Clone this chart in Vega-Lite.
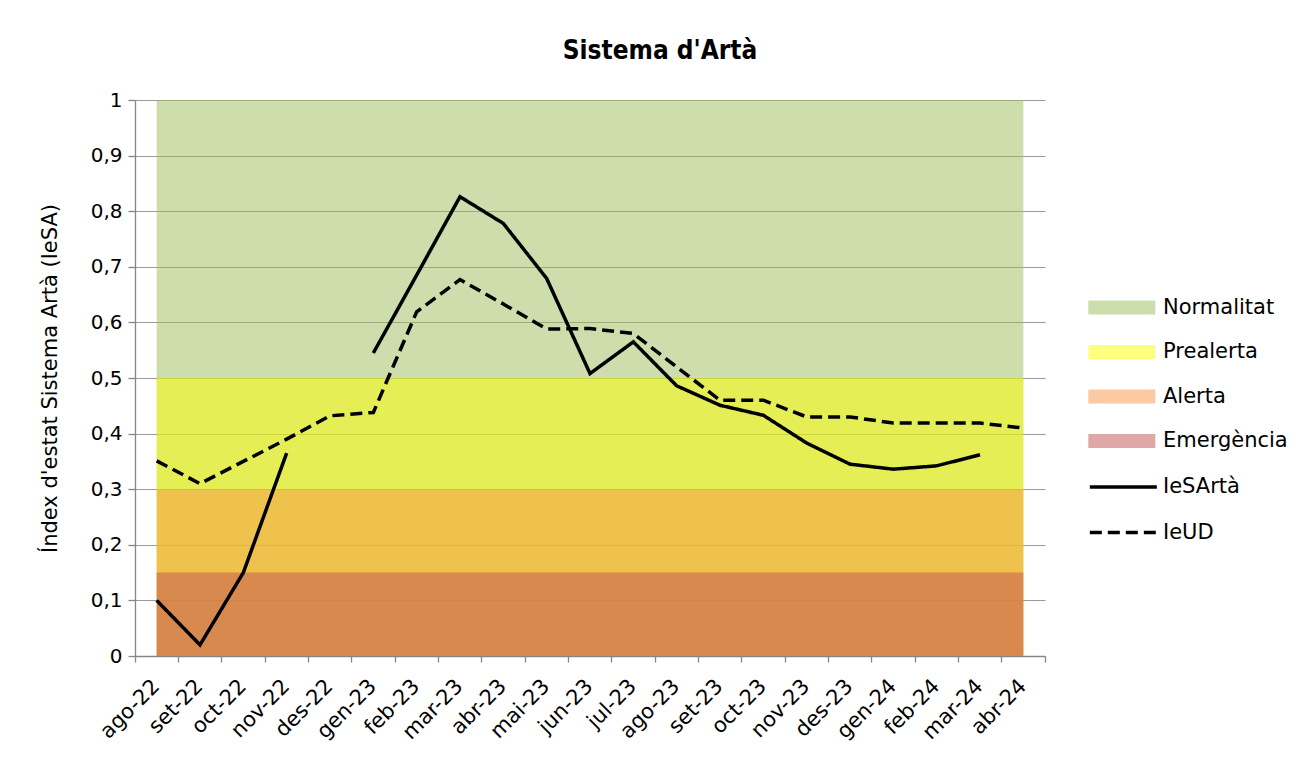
{
  "$schema": "https://vega.github.io/schema/vega-lite/v6.json",
  "width": 910,
  "height": 556,
  "autosize": {"type": "none"},
  "padding": {"left": 135, "top": 100, "right": 258, "bottom": 105},
  "background": "white",
  "title": {
    "text": "Sistema d'Artà",
    "font": "Liberation Sans Narrow, DejaVu Sans Condensed, sans-serif",
    "fontSize": 26,
    "fontWeight": "bold",
    "color": "#000000",
    "anchor": "middle",
    "frame": "group",
    "dx": 70,
    "offset": 26
  },
  "config": {
    "font": "DejaVu Sans",
    "view": {"stroke": null},
    "axis": {
      "domainColor": "#868686",
      "domainWidth": 1.3,
      "tickColor": "#868686",
      "tickWidth": 1.3,
      "gridColor": "#9A9A9A",
      "gridWidth": 1.2,
      "labelColor": "#000000",
      "titleColor": "#000000",
      "labelFont": "DejaVu Sans",
      "titleFont": "DejaVu Sans"
    },
    "legend": {
      "labelFont": "DejaVu Sans",
      "labelFontSize": 21,
      "labelColor": "#000000",
      "orient": "none",
      "title": null,
      "padding": 0,
      "rowPadding": 22.5,
      "labelOffset": 52,
      "symbolSize": 499,
      "legendX": 953
    }
  },
  "datasets": {
    "bands": [
      {"band": "Normalitat", "month": "ago-22", "value": 1},
      {"band": "Normalitat", "month": "abr-24", "value": 1},
      {"band": "Prealerta", "month": "ago-22", "value": 0.5},
      {"band": "Prealerta", "month": "abr-24", "value": 0.5},
      {"band": "Alerta", "month": "ago-22", "value": 0.3},
      {"band": "Alerta", "month": "abr-24", "value": 0.3},
      {"band": "Emergència", "month": "ago-22", "value": 0.15},
      {"band": "Emergència", "month": "abr-24", "value": 0.15}
    ],
    "series": [
      {"series": "IeSArtà", "month": "ago-22", "value": 0.10},
      {"series": "IeSArtà", "month": "set-22", "value": 0.02},
      {"series": "IeSArtà", "month": "oct-22", "value": 0.15},
      {"series": "IeSArtà", "month": "nov-22", "value": 0.365},
      {"series": "IeSArtà", "month": "des-22", "value": null},
      {"series": "IeSArtà", "month": "gen-23", "value": 0.545},
      {"series": "IeSArtà", "month": "feb-23", "value": 0.685},
      {"series": "IeSArtà", "month": "mar-23", "value": 0.826},
      {"series": "IeSArtà", "month": "abr-23", "value": 0.778},
      {"series": "IeSArtà", "month": "mai-23", "value": 0.679},
      {"series": "IeSArtà", "month": "jun-23", "value": 0.508},
      {"series": "IeSArtà", "month": "jul-23", "value": 0.565},
      {"series": "IeSArtà", "month": "ago-23", "value": 0.486},
      {"series": "IeSArtà", "month": "set-23", "value": 0.451},
      {"series": "IeSArtà", "month": "oct-23", "value": 0.433},
      {"series": "IeSArtà", "month": "nov-23", "value": 0.383},
      {"series": "IeSArtà", "month": "des-23", "value": 0.345},
      {"series": "IeSArtà", "month": "gen-24", "value": 0.336},
      {"series": "IeSArtà", "month": "feb-24", "value": 0.342},
      {"series": "IeSArtà", "month": "mar-24", "value": 0.362},
      {"series": "IeUD", "month": "ago-22", "value": 0.351},
      {"series": "IeUD", "month": "set-22", "value": 0.31},
      {"series": "IeUD", "month": "oct-22", "value": 0.35},
      {"series": "IeUD", "month": "nov-22", "value": 0.39},
      {"series": "IeUD", "month": "des-22", "value": 0.432},
      {"series": "IeUD", "month": "gen-23", "value": 0.438},
      {"series": "IeUD", "month": "feb-23", "value": 0.619},
      {"series": "IeUD", "month": "mar-23", "value": 0.677},
      {"series": "IeUD", "month": "abr-23", "value": 0.633},
      {"series": "IeUD", "month": "mai-23", "value": 0.588},
      {"series": "IeUD", "month": "jun-23", "value": 0.589},
      {"series": "IeUD", "month": "jul-23", "value": 0.58},
      {"series": "IeUD", "month": "ago-23", "value": 0.52},
      {"series": "IeUD", "month": "set-23", "value": 0.46},
      {"series": "IeUD", "month": "oct-23", "value": 0.46},
      {"series": "IeUD", "month": "nov-23", "value": 0.43},
      {"series": "IeUD", "month": "des-23", "value": 0.43},
      {"series": "IeUD", "month": "gen-24", "value": 0.419},
      {"series": "IeUD", "month": "feb-24", "value": 0.419},
      {"series": "IeUD", "month": "mar-24", "value": 0.419},
      {"series": "IeUD", "month": "abr-24", "value": 0.41}
    ]
  },
  "encoding": {
    "x": {"field": "month", "type": "ordinal",
      "sort": ["ago-22","set-22","oct-22","nov-22","des-22","gen-23","feb-23","mar-23","abr-23","mai-23","jun-23","jul-23","ago-23","set-23","oct-23","nov-23","des-23","gen-24","feb-24","mar-24","abr-24"],
      "scale": {"type": "band", "paddingInner": 0, "paddingOuter": 0},
      "axis": {"title": null, "ticks": true, "tickSize": 6, "bandPosition": 1, "tickExtra": true, "labelOffset": -8, "domain": true, "grid": false, "labelAngle": -45, "labelFontSize": 21, "labelPadding": 13, "labelOverlap": false}},
    "y": {"field": "value", "type": "quantitative", "scale": {"domain": [0, 1]},
      "axis": {"values": [0, 0.1, 0.2, 0.3, 0.4, 0.5, 0.6, 0.7, 0.8, 0.9, 1], "grid": true, "labelExpr": "replace(format(datum.value, '.1~f'), '.', ',')", "labelFontSize": 20, "tickSize": 7, "labelPadding": 6, "title": "Índex d'estat Sistema Artà (IeSA)", "titleFontSize": 21, "titleFontWeight": "normal", "titlePadding": 30}}
  },
  "layer": [
    {
      "data": {"name": "bands"},
      "transform": [{"filter": "datum.band === 'Normalitat'"}],
      "mark": {"type": "area", "opacity": 0.5},
      "encoding": {
        "y2": {"datum": 0},
        "color": {"field": "band", "type": "nominal",
          "scale": {"domain": ["Normalitat", "Prealerta", "Alerta", "Emergència"], "range": ["#9BBB59", "#FFFF00", "#F79646", "#C0504D"]},
          "legend": {"legendY": 196, "symbolType": "M-1,-0.63H5V0.63H-1Z", "symbolStrokeWidth": 0}}
      }
    },
    {
      "data": {"name": "bands"},
      "transform": [{"filter": "datum.band === 'Prealerta'"}],
      "mark": {"type": "area", "opacity": 0.5},
      "encoding": {
        "y2": {"datum": 0},
        "color": {"field": "band", "type": "nominal",
          "scale": {"domain": ["Normalitat", "Prealerta", "Alerta", "Emergència"], "range": ["#9BBB59", "#FFFF00", "#F79646", "#C0504D"]},
          "legend": {"legendY": 196, "symbolType": "M-1,-0.63H5V0.63H-1Z", "symbolStrokeWidth": 0}}
      }
    },
    {
      "data": {"name": "bands"},
      "transform": [{"filter": "datum.band === 'Alerta'"}],
      "mark": {"type": "area", "opacity": 0.5},
      "encoding": {
        "y2": {"datum": 0},
        "color": {"field": "band", "type": "nominal",
          "scale": {"domain": ["Normalitat", "Prealerta", "Alerta", "Emergència"], "range": ["#9BBB59", "#FFFF00", "#F79646", "#C0504D"]},
          "legend": {"legendY": 196, "symbolType": "M-1,-0.63H5V0.63H-1Z", "symbolStrokeWidth": 0}}
      }
    },
    {
      "data": {"name": "bands"},
      "transform": [{"filter": "datum.band === 'Emergència'"}],
      "mark": {"type": "area", "opacity": 0.5},
      "encoding": {
        "y2": {"datum": 0},
        "color": {"field": "band", "type": "nominal",
          "scale": {"domain": ["Normalitat", "Prealerta", "Alerta", "Emergència"], "range": ["#9BBB59", "#FFFF00", "#F79646", "#C0504D"]},
          "legend": {"legendY": 196, "symbolType": "M-1,-0.63H5V0.63H-1Z", "symbolStrokeWidth": 0}}
      }
    },
    {
      "data": {"name": "series"},
      "mark": {"type": "line", "color": "#000000", "strokeWidth": 3.5, "invalid": "break-paths-show-domains"},
      "encoding": {
        "strokeDash": {"field": "series", "type": "nominal",
          "scale": {"domain": ["IeSArtà", "IeUD"], "range": [[1, 0], [12, 6]]},
          "legend": {"legendY": 374, "labelOffset": 49, "symbolType": "M-1,0H5", "symbolStrokeWidth": 3.5, "symbolStrokeColor": "#000000"}}
      }
    }
  ]
}
